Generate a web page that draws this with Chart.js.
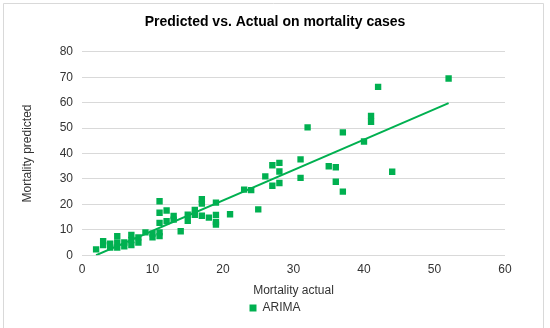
<!DOCTYPE html>
<html><head><meta charset="utf-8">
<script src="https://cdn.jsdelivr.net/npm/chart.js@4.4.0/dist/chart.umd.min.js"></script>
<style>html,body{margin:0;padding:0;background:#fff;}#wrap{width:550px;height:328px;position:relative;}</style>
</head><body><div id="wrap"><canvas id="c" width="550" height="328"></canvas></div>
<script>
const seriesName = "ARIMA";
const actual = [2, 3, 3, 4, 4, 5, 5, 5, 6, 6, 7, 7, 7, 8, 8, 9, 10, 10,
  11, 11, 11, 11, 11, 12, 12, 13, 13, 14, 15, 15, 16, 16, 17, 17, 17, 18,
  19, 19, 19, 19, 21, 23, 24, 25, 26, 27, 27, 28, 28, 28, 31, 31, 32, 35,
  36, 36, 37, 37, 40, 41, 41, 42, 44, 52];
const predicted = [2.3, 5.5, 4, 4.5, 3, 7.5, 5, 3, 5, 3.5, 8, 6, 4, 7, 5, 9, 8.5, 7,
  21.2, 16.7, 12.7, 9, 7.5, 17.6, 13.4, 15.4, 14, 9.4, 15.9, 13.5, 17.8, 15.9, 22, 20.3, 15.5, 14.8,
  20.7, 15.8, 13, 12, 16.1, 25.8, 25.6, 18, 31, 35.4, 27.3, 36.3, 32.9, 28.4, 37.7, 30.4, 50.3, 35,
  34.6, 28.9, 48.3, 25, 44.7, 54.8, 52.5, 66.2, 32.8, 69.5];
const trendActual = [2, 52];
const trendPredicted = [0, 59.8];
const xTicks = [0, 10, 20, 30, 40, 50, 60];
const yTicks = [0, 10, 20, 30, 40, 50, 60, 70, 80];
const titleText = "Predicted vs. Actual on mortality cases";
const xTitle = "Mortality actual";
const yTitle = "Mortality predicted";

const green = "#00b050";
const FONT = "'Liberation Sans', Arial, sans-serif";

const points = actual.map((x, i) => ({x: x, y: predicted[i]}));
const trend = trendActual.map((x, i) => ({x: x, y: trendPredicted[i]}));

const frame = {
  id: 'frame',
  beforeDraw(chart) {
    const ctx = chart.ctx;
    ctx.save();
    ctx.fillStyle = '#fff';
    ctx.fillRect(0, 0, chart.width, chart.height);
    ctx.strokeStyle = '#d9d9d9';
    ctx.lineWidth = 1;
    ctx.beginPath();
    ctx.moveTo(3.5, chart.height);
    ctx.lineTo(3.5, 3.5);
    ctx.lineTo(543.5, 3.5);
    ctx.lineTo(543.5, chart.height);
    ctx.stroke();
    ctx.restore();
  }
};

new Chart(document.getElementById('c'), {
  type: 'scatter',
  data: {
    datasets: [
      {
        label: seriesName,
        data: points,
        pointStyle: 'rect',
        pointRadius: 4.5,
        pointHoverRadius: 4.5,
        backgroundColor: green,
        borderColor: green,
        borderWidth: 0,
        order: 1
      },
      {
        type: 'line',
        label: 'trend',
        data: trend,
        borderColor: green,
        borderWidth: 2,
        pointRadius: 0,
        fill: false,
        order: 2
      }
    ]
  },
  options: {
    responsive: false,
    animation: false,
    layout: {padding: {left: 0, right: 0, top: 0, bottom: 4}},
    plugins: {
      title: {
        display: true,
        text: titleText,
        color: '#000',
        font: {family: FONT, size: 14, weight: 'bold'},
        padding: {top: 14, bottom: 21}
      },
      legend: {
        position: 'bottom',
        labels: {
          filter: (item) => item.text === seriesName,
          boxWidth: 7,
          boxHeight: 7,
          color: '#333',
          padding: 4,
          font: {family: FONT, size: 12}
        }
      },
      tooltip: {enabled: false}
    },
    scales: {
      x: {
        type: 'linear',
        min: xTicks[0],
        max: xTicks[xTicks.length - 1],
        afterBuildTicks(scale) { scale.ticks = xTicks.map(v => ({value: v})); },
        grid: {display: false, drawTicks: false},
        border: {display: false},
        ticks: {color: '#333', font: {family: FONT, size: 12}, padding: 7},
        title: {display: true, text: xTitle, color: '#333', font: {family: FONT, size: 12}, padding: {top: 0, bottom: 0}}
      },
      y: {
        type: 'linear',
        min: yTicks[0],
        max: yTicks[yTicks.length - 1],
        afterBuildTicks(scale) { scale.ticks = yTicks.map(v => ({value: v})); },
        afterFit(scale) { scale.width = 82; },
        grid: {color: '#d9d9d9', drawTicks: false, lineWidth: 1},
        border: {display: false},
        ticks: {color: '#333', font: {family: FONT, size: 12}, padding: 9},
        title: {display: true, text: yTitle, color: '#333', font: {family: FONT, size: 12}, padding: {top: 20, bottom: 0}}
      },
      yr: {
        type: 'linear',
        position: 'right',
        display: true,
        afterFit(scale) { scale.width = 45; },
        grid: {display: false},
        border: {display: false},
        ticks: {display: false}
      }
    }
  },
  plugins: [frame]
});
</script>
</body></html>
